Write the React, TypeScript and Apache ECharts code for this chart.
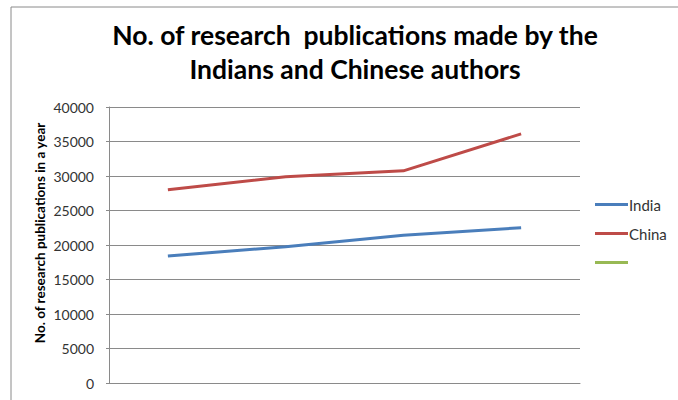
import React, { useEffect, useRef } from "react";
import * as echarts from "echarts";

const categories = ["2007", "2008", "2009", "2010"];
const indiaValues = [18400, 19750, 21400, 22500];
const chinaValues = [28000, 29900, 30750, 36100];
const emptySeries: number[] = [];
const yTicks = { min: 0, max: 40000, interval: 5000 };

export default function App() {
  const ref = useRef<HTMLDivElement>(null);
  useEffect(() => {
    if (!ref.current) return;
    const chart = echarts.init(ref.current, undefined, { renderer: "svg" });
    chart.setOption({
      animation: false,
      backgroundColor: "#ffffff",
      textStyle: { fontFamily: "Lato" },
      title: {
        text: "No. of research  publications made by the\nIndians and Chinese authors",
        left: 350,
        top: 13,
        textAlign: "center",
        textStyle: { fontFamily: "Lato", fontWeight: "bold", fontSize: 26.5, lineHeight: 34, color: "#000" },
      },
      graphic: [
        {
          type: "rect",
          shape: { x: 11, y: 7, width: 900, height: 600 },
          style: { fill: "none", stroke: "#8a8a8a", lineWidth: 1 },
          silent: true,
          z: -1,
        },
        {
          type: "text",
          x: 40,
          y: 233,
          rotation: Math.PI / 2,
          style: {
            text: "No. of research publications in a year",
            fontFamily: "Lato",
            fontWeight: "bold",
            fontSize: 13.5,
            fill: "#000",
            align: "center",
            verticalAlign: "middle",
          },
        },
      ],
      legend: {
        orient: "vertical",
        left: 590,
        top: 192,
        icon: "rect",
        itemWidth: 33,
        itemHeight: 3,
        itemGap: 14,
        data: ["India", "China", " "],
        textStyle: { fontFamily: "Lato", fontSize: 15, lineHeight: 15, color: "#333", padding: [0, 0, 0, -4] },
      },
      grid: { left: 109, right: 98, top: 107, bottom: 17, containLabel: false },
      xAxis: {
        type: "category",
        data: categories,
        boundaryGap: true,
        axisLine: { show: true, lineStyle: { color: "#8a8a8a" } },
        axisTick: { show: false },
        axisLabel: { show: false },
      },
      yAxis: {
        type: "value",
        min: yTicks.min,
        max: yTicks.max,
        interval: yTicks.interval,
        axisLine: { show: true, lineStyle: { color: "#8a8a8a" } },
        axisTick: { show: true, length: 3, lineStyle: { color: "#8a8a8a" } },
        axisLabel: {
          margin: 15,
          fontFamily: "Lato",
          fontSize: 14,
          color: "#333",
          formatter: (v: number) => String(v),
        },
        splitLine: { show: true, lineStyle: { color: "#8a8a8a", width: 1 } },
      },
      series: [
        {
          name: "India",
          type: "line",
          data: indiaValues,
          symbol: "none",
          lineStyle: { color: "#4A7EBB", width: 3 },
          itemStyle: { color: "#4A7EBB" },
        },
        {
          name: "China",
          type: "line",
          data: chinaValues,
          symbol: "none",
          lineStyle: { color: "#BE4B48", width: 3 },
          itemStyle: { color: "#BE4B48" },
        },
        {
          name: " ",
          type: "line",
          data: emptySeries,
          symbol: "none",
          lineStyle: { color: "#98B954", width: 3 },
          itemStyle: { color: "#98B954" },
        },
      ],
    });
    return () => chart.dispose();
  }, []);
  return (
    <div
      ref={ref}
      style={{ position: "fixed", left: 0, top: 0, width: 678, height: 400 }}
    />
  );
}
